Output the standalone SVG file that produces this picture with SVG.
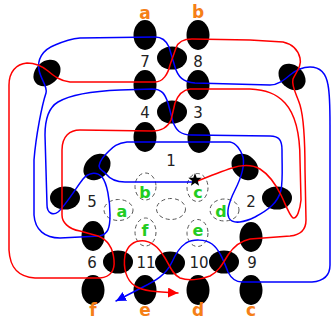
<svg xmlns="http://www.w3.org/2000/svg" width="331" height="321" viewBox="0 0 331 321">
<style>
.e{fill:#000}
.d{fill:none;stroke:#555;stroke-width:1;stroke-dasharray:4 3}
.n{font-family:"DejaVu Sans",sans-serif;font-size:15px;fill:#222;text-anchor:middle}
.o{font-family:"DejaVu Sans",sans-serif;font-size:17px;font-weight:bold;fill:#f57f17;text-anchor:middle}
.g{font-family:"DejaVu Sans",sans-serif;font-size:16px;font-weight:bold;fill:#22cc22;text-anchor:middle}
.c{fill:none;stroke-width:1.5;stroke-linecap:round;stroke-linejoin:round}
</style>
<defs>
<marker id="ab" markerUnits="userSpaceOnUse" markerWidth="12" markerHeight="12" refX="10" refY="5" orient="auto"><path d="M0,0 L10,5 L0,10 z" fill="blue"/></marker>
<marker id="ar" markerUnits="userSpaceOnUse" markerWidth="12" markerHeight="12" refX="10" refY="5" orient="auto"><path d="M0,0 L10,5 L0,10 z" fill="red"/></marker>
</defs>
<g id="nodes">
<g id="v-a"><ellipse class="e" cx="145" cy="35" rx="11.5" ry="15"/></g>
<g id="v-b"><ellipse class="e" cx="198" cy="35" rx="11.5" ry="15"/></g>
<g id="h-78"><ellipse class="e" cx="172" cy="58" rx="15" ry="11.5"/></g>
<g id="v-7"><ellipse class="e" cx="145" cy="85" rx="11.5" ry="15"/></g>
<g id="v-8"><ellipse class="e" cx="198" cy="85" rx="11.5" ry="15"/></g>
<g id="h-43"><ellipse class="e" cx="172" cy="112" rx="15" ry="11.5"/></g>
<g id="v-4"><ellipse class="e" cx="145" cy="137" rx="11.5" ry="15"/></g>
<g id="v-3"><ellipse class="e" cx="199" cy="138" rx="11.5" ry="15"/></g>
<g id="t-ul"><ellipse class="e" cx="0" cy="0" rx="15" ry="11.5" transform="translate(47,73) rotate(-42)"/></g>
<g id="t-ur"><ellipse class="e" cx="0" cy="0" rx="15" ry="11.5" transform="translate(292,77) rotate(42)"/></g>
<g id="t-l"><ellipse class="e" cx="0" cy="0" rx="15" ry="11.5" transform="translate(97,167) rotate(-42)"/></g>
<g id="t-r"><ellipse class="e" cx="0" cy="0" rx="15" ry="11.5" transform="translate(245,167) rotate(42)"/></g>
<g id="h-5"><ellipse class="e" cx="65" cy="198" rx="15" ry="11.5"/></g>
<g id="h-2"><ellipse class="e" cx="277" cy="198" rx="15" ry="11.5"/></g>
<g id="v-6"><ellipse class="e" cx="93" cy="236" rx="11.5" ry="15"/></g>
<g id="v-9"><ellipse class="e" cx="251" cy="237" rx="11.5" ry="15"/></g>
<g id="h-6-11"><ellipse class="e" cx="118" cy="262" rx="15" ry="11.5"/></g>
<g id="h-11-10"><ellipse class="e" cx="170" cy="263" rx="15" ry="11.5"/></g>
<g id="h-10-9"><ellipse class="e" cx="224" cy="262" rx="15" ry="11.5"/></g>
<g id="v-f"><ellipse class="e" cx="93" cy="290" rx="11.5" ry="15"/></g>
<g id="v-e"><ellipse class="e" cx="145" cy="290" rx="11.5" ry="15"/></g>
<g id="v-d"><ellipse class="e" cx="198" cy="290" rx="11.5" ry="15"/></g>
<g id="v-c"><ellipse class="e" cx="251" cy="290" rx="11.5" ry="15"/></g>
<g id="r-b"><ellipse class="d" cx="145.5" cy="186.5" rx="10.5" ry="13.5"/><text class="g" x="145" y="198">b</text></g>
<g id="r-c"><ellipse class="d" cx="197.5" cy="187.5" rx="10.5" ry="14"/><text class="g" x="198" y="198">c</text></g>
<g id="r-a"><ellipse class="d" cx="118.5" cy="210" rx="14.5" ry="10.5"/><text class="g" x="122" y="217">a</text></g>
<g id="r-mid"><ellipse class="d" cx="171" cy="209" rx="14.5" ry="10.5"/></g>
<g id="r-d"><ellipse class="d" cx="224.5" cy="210" rx="14.5" ry="11"/><text class="g" x="221" y="217">d</text></g>
<g id="r-f"><ellipse class="d" cx="145.5" cy="232" rx="10.5" ry="14"/><text class="g" x="145" y="236">f</text></g>
<g id="r-e"><ellipse class="d" cx="197.5" cy="233" rx="10.5" ry="13.5"/><text class="g" x="198" y="236">e</text></g>
</g>
<g id="labels">
<text class="n" x="145" y="67">7</text>
<text class="n" x="198" y="67">8</text>
<text class="n" x="145" y="118">4</text>
<text class="n" x="198" y="118">3</text>
<text class="n" x="171" y="166">1</text>
<text class="n" x="92" y="207">5</text>
<text class="n" x="251" y="207">2</text>
<text class="n" x="92" y="268">6</text>
<text class="n" x="146" y="268">11</text>
<text class="n" x="199" y="268">10</text>
<text class="n" x="252" y="268">9</text>
<text class="o" x="145" y="19">a</text>
<text class="o" x="198" y="18">b</text>
<text class="o" x="93" y="316">f</text>
<text class="o" x="145" y="316">e</text>
<text class="o" x="198" y="316">d</text>
<text class="o" x="251" y="316">c</text>
</g>
<g id="connectors">
<path class="c" stroke="blue" marker-end="url(#ab)" d="M193,182 L125,182 C115,182 110,179 106,174 C103,170 99,170 99,166 C100,160 104,156 109,151 C113,147 117,143 127,142 L230,142 C236,143 241,150 243,157 C245,166 240,180 235,190 C230,200 226,212 229,218 C233,225 245,222 255,217 C268,210 278,203 281,190 C283,180 282,170 282,150 C282,140 279,136 270,136 L192,135 C180,135 176,130 173,122 L168,103 C165,94 162,89 152,89 L120,90 C95,91 70,95 58,102 C48,108 45,120 45,135 L47,205 C47,213 53,216 58,212 C66,205 78,185 83,179 C88,173 96,171 102,177 C107,183 110,200 110,215 C110,228 108,234 100,236 L60,238 C45,238 35,230 34,215 L34,160 C36,135 42,105 46,93 C48,87 41,80 39,70 C37,60 42,50 55,45 C62,42 70,39 80,38 L155,37 C162,37 166,40 169,47 L175,67 C178,77 183,82 195,83 L270,85 C278,85 284,80 290,75 C296,70 302,67 310,67 C320,67 326,73 328,85 C330,95 330,110 330,125 L330,265 C330,276 324,281 312,282 L242,282 C235,282 231,278 228,272 C224,262 220,250 212,244 C205,239 193,239 186,243 C180,247 176,253 172,262 C166,275 155,281 143,287 L116,301"/>
<path class="c" stroke="red" marker-end="url(#ar)" d="M195,182 C205,178 220,172 232,168 C240,165 252,164 260,169 C268,174 276,185 281,195 C285,203 289,215 293,218 C297,219 300,210 301,200 L300,160 C300,135 296,115 285,103 C276,93 265,90 250,89 L190,89 C182,90 178,95 175,103 L171,120 C168,127 163,131 152,131 L80,130 C70,130 62,136 62,150 L62,215 C62,222 68,229 80,231 L98,236 C108,240 113,248 114,260 C115,270 111,277 100,278 L35,278 C18,277 10,268 9,250 L9,85 C9,72 16,64 27,63 C35,63 42,66 48,71 C54,76 60,81 70,82 L155,82 C163,82 168,74 170,65 L176,48 C178,42 184,39 192,39 L250,40 L283,42 C292,44 298,50 300,58 C302,66 296,72 293,79 C291,86 297,95 300,105 C303,115 305,140 305,170 L306,220 C306,230 300,235 290,236 L250,239 C240,241 234,246 228,255 C222,265 218,272 210,276 C200,280 188,281 180,278 C172,274 170,266 165,258 C160,250 155,243 145,241 C135,240 128,245 125,255 C123,268 126,280 135,286 C143,291 155,292 178,293"/>
</g>
<g id="star"><polygon fill="#000" points="195,173 196.7,177.65 201.66,177.84 197.76,180.9 199.11,185.66 195,182.9 190.89,185.66 192.24,180.9 188.34,177.84 193.3,177.65"/></g>
</svg>
